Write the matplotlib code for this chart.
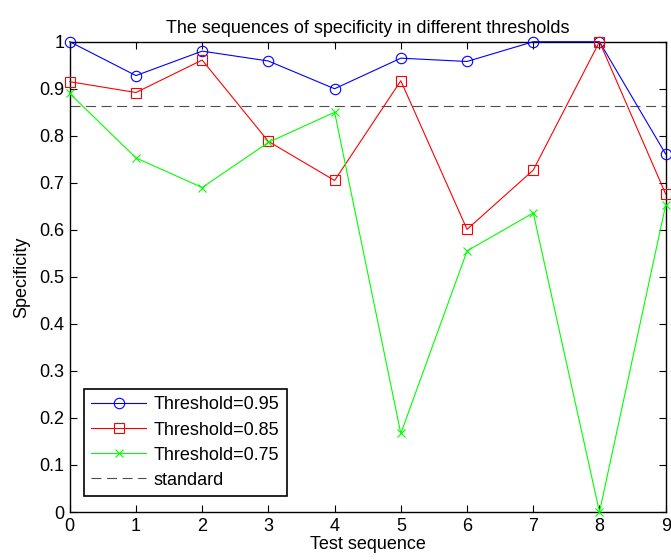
import matplotlib
matplotlib.use("Agg")
import matplotlib.pyplot as plt

seq = [0, 1, 2, 3, 4, 5, 6, 7, 8, 9]
thr_095 = [1.0, 0.928, 0.980, 0.959, 0.900, 0.965, 0.958, 1.0, 1.0, 0.761]
thr_085 = [0.915, 0.892, 0.961, 0.788, 0.705, 0.917, 0.601, 0.727, 1.0, 0.676]
thr_075 = [0.890, 0.753, 0.690, 0.786, 0.850, 0.167, 0.555, 0.636, 0.0, 0.653]
standard = 0.864

plt.rcParams["font.family"] = ["Liberation Sans", "DejaVu Sans"]
fs = 13

fig = plt.figure(figsize=(6.71, 5.60), dpi=100)
ax = fig.add_axes([0.1039, 0.0857, 0.8882, 0.8398])

ax.plot(seq, thr_095, color=(0, 0, 1), lw=0.8, marker="o", ms=7.5,
        mfc="none", mew=0.8, label="Threshold=0.95", clip_on=False, zorder=3)
ax.plot(seq, thr_085, color=(1, 0, 0), lw=0.8, marker="s", ms=7,
        mfc="none", mew=0.8, label="Threshold=0.85", clip_on=False, zorder=3)
ax.plot(seq, thr_075, color=(0, 1, 0), lw=0.8, marker="x", ms=6,
        mew=0.8, label="Threshold=0.75", clip_on=False, zorder=3)
ax.axhline(standard, color=(0.3, 0.3, 0.3), lw=0.8, ls=(0, (9, 5)),
           label="standard")

ax.set_xlim(0, 9)
ax.set_ylim(0, 1)
ax.set_xticks(seq)
ax.set_yticks([i / 10 for i in range(11)])
ax.set_yticklabels(["0", "0.1", "0.2", "0.3", "0.4", "0.5", "0.6", "0.7",
                    "0.8", "0.9", "1"])
ax.tick_params(direction="in", top=True, right=True, labelsize=fs,
               length=5, width=0.8, pad=4)
for s in ax.spines.values():
    s.set_linewidth(1.0)

ax.set_title("The sequences of specificity in different thresholds",
             fontsize=fs, pad=6)
ax.set_xlabel("Test sequence", fontsize=fs, labelpad=1)
ax.set_ylabel("Specificity", fontsize=fs, labelpad=6)

leg = ax.legend(loc="lower left", bbox_to_anchor=(0.024, 0.034),
                fontsize=fs, fancybox=False, framealpha=1,
                edgecolor="black", handlelength=3.05, borderpad=0.4,
                labelspacing=0.45, handletextpad=0.4, borderaxespad=0)
leg.get_frame().set_linewidth(1.2)

fig.savefig("out.png", dpi=100)
